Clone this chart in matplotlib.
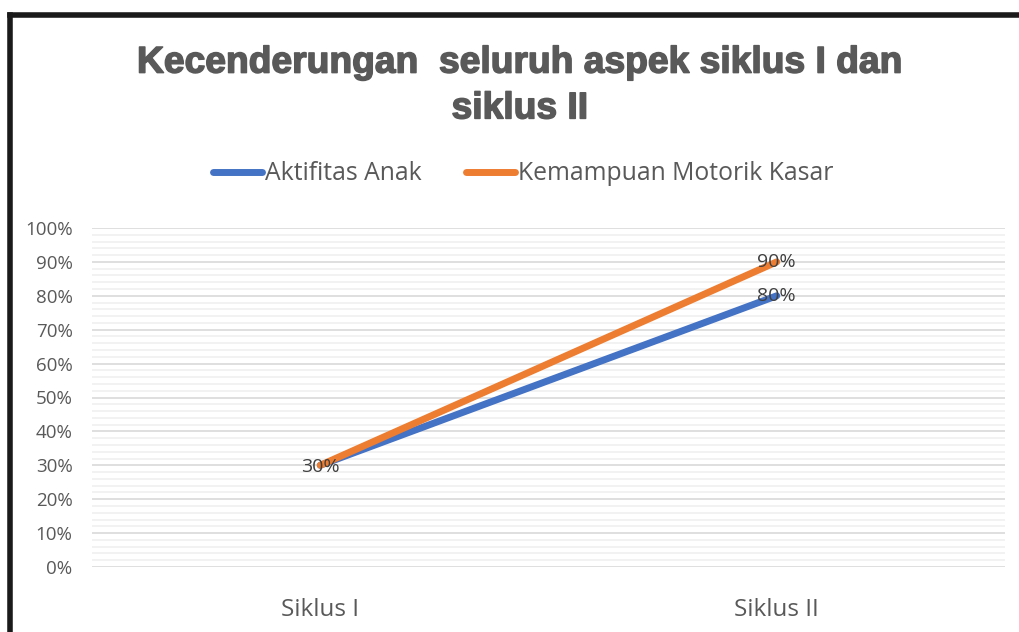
import matplotlib.pyplot as plt
import matplotlib.patheffects as pe
from matplotlib.lines import Line2D
from matplotlib.ticker import MultipleLocator, FuncFormatter

categories = ["Siklus I", "Siklus II"]
aktifitas = [30, 80]
motorik = [30, 90]
series_names = ["Aktifitas Anak", "Kemampuan Motorik Kasar"]
title = "Kecenderungan  seluruh aspek siklus I dan\nsiklus II"

BLUE = "#4472C4"
ORANGE = "#ED7D31"
GRAY = "#595959"

plt.rcParams['font.family'] = ['Open Sans', 'DejaVu Sans']

fig = plt.figure(figsize=(10.19, 6.32), dpi=100)
ax = fig.add_axes([92 / 1019, 1 - 567 / 632, (1005 - 92) / 1019, (567 - 228) / 632])

xs = list(range(len(categories)))
ax.plot(xs, aktifitas, color=BLUE, lw=5, solid_capstyle="round", label=series_names[0], zorder=3)
ax.plot(xs, motorik, color=ORANGE, lw=5, solid_capstyle="round", label=series_names[1], zorder=4)

# data labels (first point overlaps, shown once)
lbl = dict(ha="center", va="center", fontsize=14, color="#404040", zorder=5)
ax.text(xs[0], aktifitas[0] - 0.5, f"{aktifitas[0]}%", **lbl)
ax.text(xs[1], aktifitas[1], f"{aktifitas[1]}%", **lbl)
ax.text(xs[1], motorik[1], f"{motorik[1]}%", **lbl)

ax.set_xlim(-0.5, 1.5)
ax.set_ylim(0, 100)
ax.yaxis.set_major_locator(MultipleLocator(10))
ax.yaxis.set_minor_locator(MultipleLocator(2))
ax.yaxis.set_major_formatter(FuncFormatter(lambda v, p: f"{v:.0f}%"))
ax.set_xticks(xs)
ax.set_xticklabels(categories)
ax.grid(axis="y", which="major", color="#D9D9D9", lw=1.2)
ax.grid(axis="y", which="minor", color="#F0F0F0", lw=1.2)
ax.set_axisbelow(True)
for s in ax.spines.values():
    s.set_visible(False)
ax.tick_params(axis="y", which="both", length=0, labelsize=13.5, labelcolor=GRAY, pad=14)
ax.tick_params(axis="x", length=0, labelsize=17.5, labelcolor=GRAY, pad=22)

fig.text(520 / 1019, 1 - 86 / 632, title, ha="center", va="center", fontsize=26.8,
         fontweight="bold", family="Liberation Sans", color=GRAY, linespacing=1.4,
         path_effects=[pe.withStroke(linewidth=1.1, foreground=GRAY)])

fig.legend(loc="center", bbox_to_anchor=(523 / 1019, 1 - 174 / 632), ncol=2, frameon=False,
           fontsize=17.8, labelcolor=GRAY, handlelength=2.0, handletextpad=0.1, columnspacing=1.8)

# outer frame (top and left edge visible)
fig.add_artist(Line2D([10 / 1019, 10 / 1019], [0, 1 - 15 / 632], color="#1a1a1a", lw=4, transform=fig.transFigure))
fig.add_artist(Line2D([10 / 1019, 1], [1 - 15 / 632, 1 - 15 / 632], color="#1a1a1a", lw=4, transform=fig.transFigure))

fig.savefig("out.png", dpi=100)
